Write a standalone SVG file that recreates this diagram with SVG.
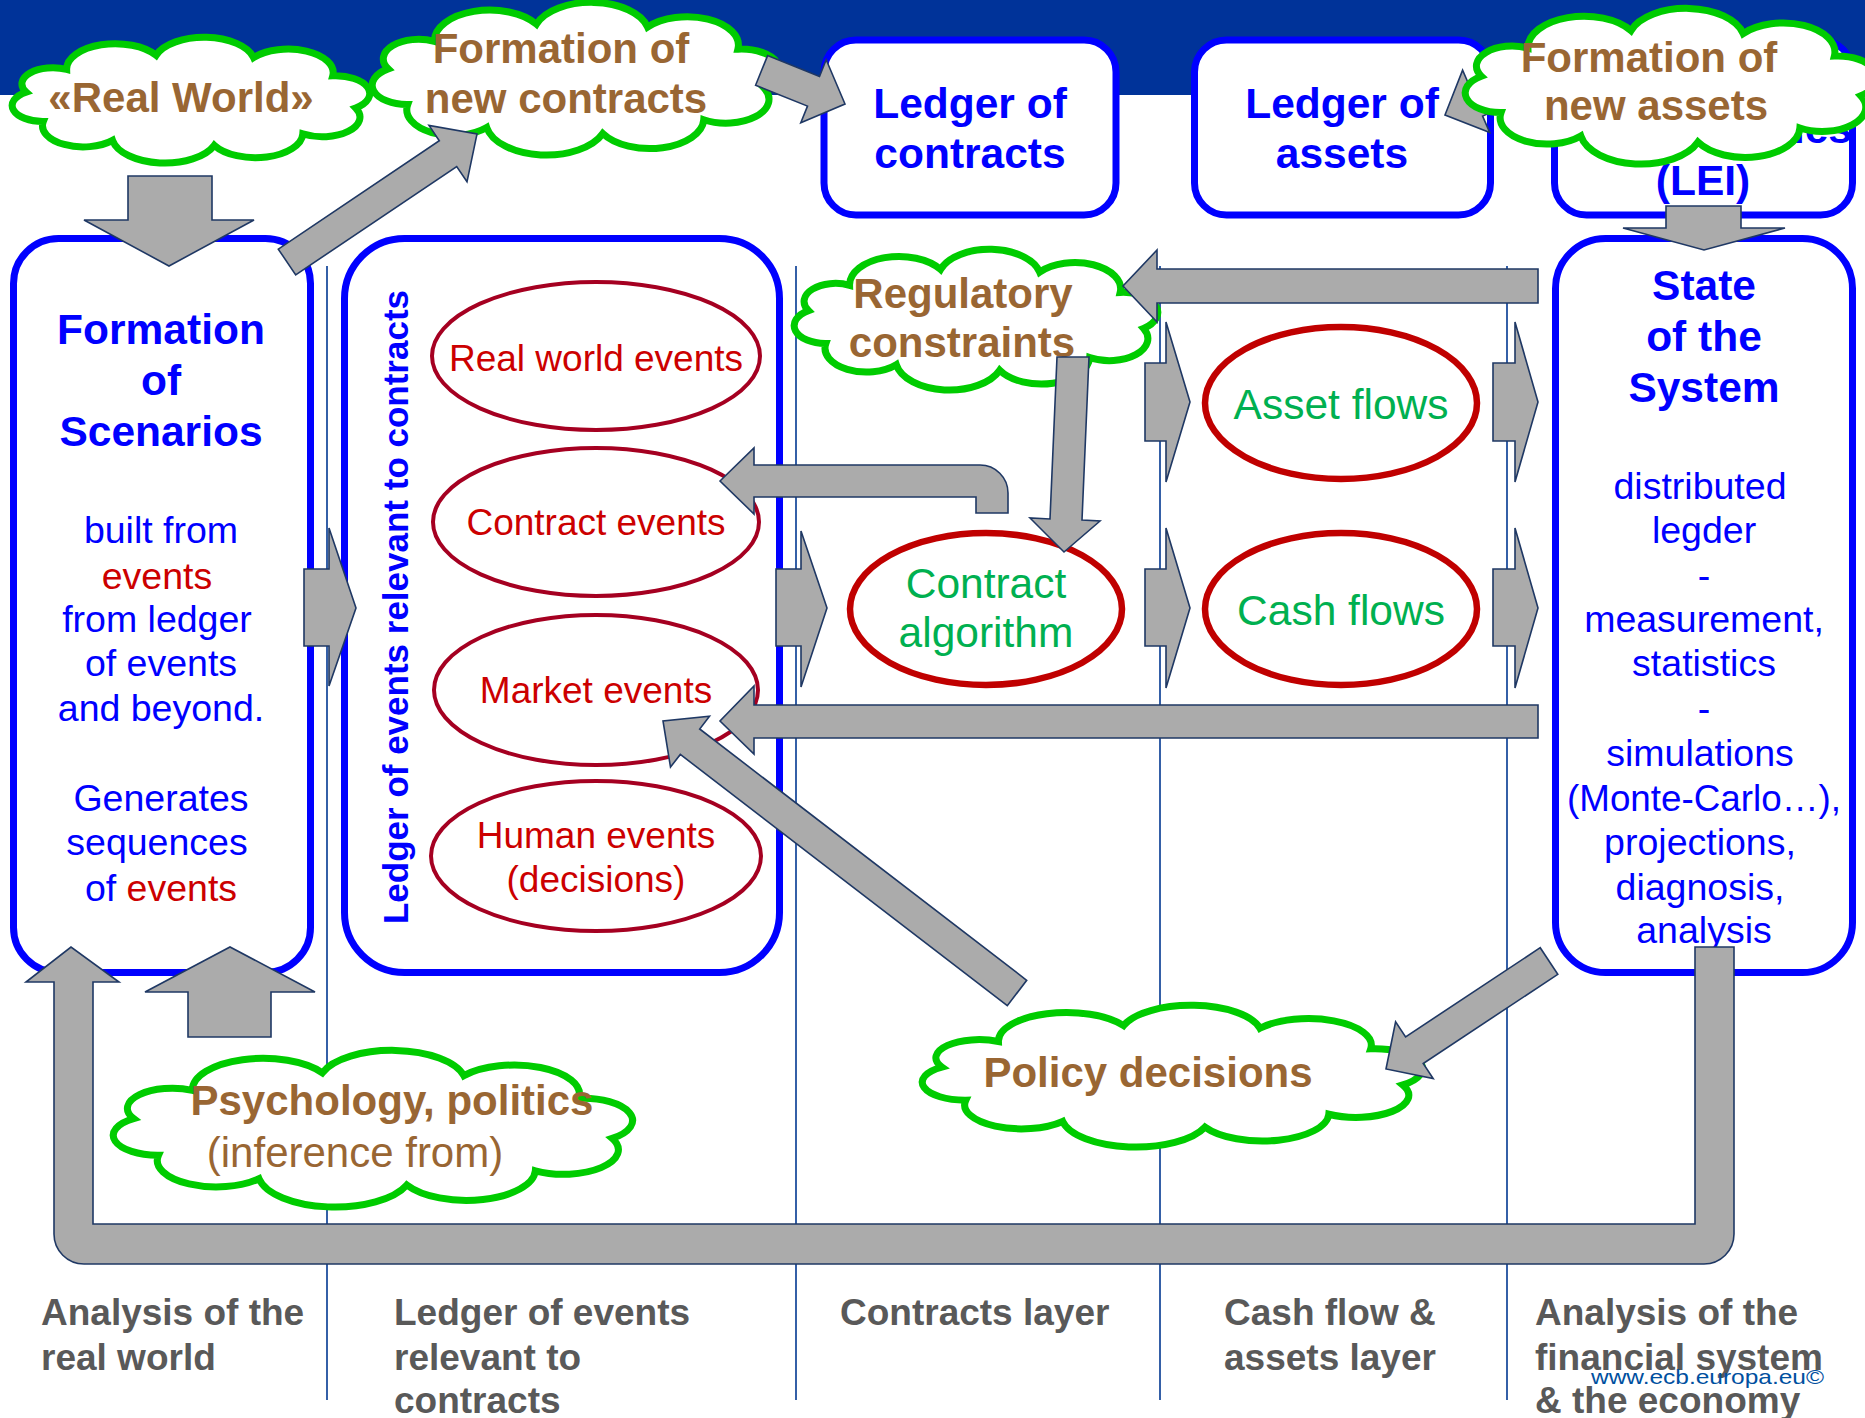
<svg xmlns="http://www.w3.org/2000/svg" xmlns:xlink="http://www.w3.org/1999/xlink" width="1865" height="1418" viewBox="0 0 1865 1418">
  <style>
    .box { fill: #ffffff; stroke: #0000ff; stroke-width: 7; }
    .ttl { font-family: "Liberation Sans", Arial, sans-serif; font-weight: bold; font-size: 42.5px; fill: #0000ff; text-anchor: middle; }
    .body { font-family: "Liberation Sans", Arial, sans-serif; font-size: 37.5px; fill: #0000ff; text-anchor: middle; }
    .red { fill: #cc0000; }
    .ev { fill: #ffffff; stroke: #a50021; stroke-width: 4; }
    .evt { font-family: "Liberation Sans", Arial, sans-serif; font-size: 37px; fill: #cc0000; text-anchor: middle; }
    .flow { fill: #ffffff; stroke: #c00000; stroke-width: 6.5; }
    .flowt { font-family: "Liberation Sans", Arial, sans-serif; font-size: 42.5px; fill: #00b050; text-anchor: middle; }
    .ct { font-family: "Liberation Sans", Arial, sans-serif; font-weight: bold; font-size: 42px; fill: #996633; text-anchor: middle; }
    .ctn { font-family: "Liberation Sans", Arial, sans-serif; font-size: 42px; fill: #996633; text-anchor: middle; }
    .arr { fill: #ababab; stroke: #1f3864; stroke-width: 1.6; stroke-linejoin: miter; }
    .lane { stroke: #1f4e9e; stroke-width: 1.8; }
    .lbl { font-family: "Liberation Sans", Arial, sans-serif; font-weight: bold; font-size: 37px; fill: #595959; }
  </style>
  <defs>
    <!-- scalloped cloud outline in a 183 x 124 unit box -->
    <path id="cloud" fill="#ffffff" stroke="#00cc00" stroke-width="7" vector-effect="non-scaling-stroke"
      d="M176.7,69.8 A19.4,19.4 0 0 1 149.5,95.4 A24.4,24.4 0 0 1 104.0,106.6 A27.3,27.3 0 0 1 51.7,101.7 A20.9,20.9 0 0 1 16.1,83.1 A15.7,15.7 0 0 1 7.3,54.2 A15.9,15.9 0 0 1 28.1,31.9 A25.0,25.0 0 0 1 74.1,18.0 A26.1,26.1 0 0 1 124.2,20.3 A23.1,23.1 0 0 1 164.9,38.2 A17.5,17.5 0 0 1 176.7,69.8 Z"/>
  </defs>

  <rect x="0" y="0" width="1865" height="1418" fill="#ffffff"/>
  <!-- title band -->
  <rect x="0" y="0" width="1865" height="95" fill="#003399"/>

  <!-- lane separators -->
  <g id="lanes">
    <line class="lane" x1="327" y1="266" x2="327" y2="1400"/>
    <line class="lane" x1="796" y1="266" x2="796" y2="1400"/>
    <line class="lane" x1="1160" y1="266" x2="1160" y2="1400"/>
    <line class="lane" x1="1507" y1="266" x2="1507" y2="1400"/>
  </g>

  <!-- ledgers in the top band -->
  <g id="ledger-contracts">
    <rect class="box" x="824" y="40" width="292" height="175" rx="32"/>
    <text class="ttl" x="970" y="118">Ledger of</text>
    <text class="ttl" x="970" y="168">contracts</text>
  </g>
  <g id="ledger-assets">
    <rect class="box" x="1194.5" y="40" width="296" height="175" rx="32"/>
    <text class="ttl" x="1342" y="118">Ledger of</text>
    <text class="ttl" x="1342" y="168">assets</text>
  </g>
  <g id="ledger-entities">
    <rect class="box" x="1554.5" y="40" width="298" height="175" rx="32"/>
    <text class="ttl" x="1852" y="143" style="text-anchor:end">entities</text>
    <text class="ttl" x="1703" y="195">(LEI)</text>
  </g>

  <!-- analysis of the real world -->
  <g id="scenarios">
    <rect class="box" x="13.5" y="238.5" width="297" height="734" rx="45"/>
    <text class="ttl" x="161" y="344">Formation</text>
    <text class="ttl" x="161" y="395">of</text>
    <text class="ttl" x="161" y="446">Scenarios</text>
    <text class="body" x="161" y="543">built from</text>
    <text class="body red" x="157" y="589">events</text>
    <text class="body" x="157" y="632">from ledger</text>
    <text class="body" x="161" y="676">of events</text>
    <text class="body" x="161" y="721">and beyond.</text>
    <text class="body" x="161" y="811">Generates</text>
    <text class="body" x="157" y="855">sequences</text>
    <text class="body" x="161" y="901">of <tspan class="red">events</tspan></text>
  </g>

  <!-- ledger of events -->
  <g id="ledger-events">
    <rect class="box" x="344.5" y="238.5" width="435" height="734" rx="60"/>
    <text class="ttl" style="font-size:35px" transform="translate(408,607) rotate(-90)" x="0" y="0">Ledger of events relevant to contracts</text>
  </g>
  <g id="real-world-events">
    <ellipse class="ev" cx="596" cy="356" rx="164" ry="74"/>
    <text class="evt" x="596" y="371">Real world events</text>
  </g>
  <g id="contract-events">
    <ellipse class="ev" cx="596" cy="522" rx="163" ry="74"/>
    <text class="evt" x="596" y="535">Contract events</text>
  </g>
  <g id="market-events">
    <ellipse class="ev" cx="596" cy="690" rx="162" ry="75"/>
    <text class="evt" x="596" y="703">Market events</text>
  </g>
  <g id="human-events">
    <ellipse class="ev" cx="596" cy="856" rx="165" ry="75"/>
    <text class="evt" x="596" y="848">Human events</text>
    <text class="evt" x="596" y="892">(decisions)</text>
  </g>

  <!-- contracts layer -->
  <g id="contract-algorithm">
    <ellipse class="flow" cx="986" cy="609" rx="136" ry="76"/>
    <text class="flowt" x="986" y="598">Contract</text>
    <text class="flowt" x="986" y="647">algorithm</text>
  </g>

  <!-- cash flow and assets layer -->
  <g id="asset-flows">
    <ellipse class="flow" cx="1341" cy="403" rx="136" ry="76"/>
    <text class="flowt" x="1341" y="419">Asset flows</text>
  </g>
  <g id="cash-flows">
    <ellipse class="flow" cx="1341" cy="609" rx="136" ry="76"/>
    <text class="flowt" x="1341" y="625">Cash flows</text>
  </g>

  <!-- analysis of the financial system -->
  <g id="state-of-system">
    <rect class="box" x="1555.5" y="238.5" width="297" height="734" rx="50"/>
    <text class="ttl" x="1704" y="300">State</text>
    <text class="ttl" x="1704" y="351">of the</text>
    <text class="ttl" x="1704" y="402">System</text>
    <text class="body" x="1700" y="499">distributed</text>
    <text class="body" x="1704" y="543">legder</text>
    <text class="body" x="1704" y="588">-</text>
    <text class="body" x="1704" y="632">measurement,</text>
    <text class="body" x="1704" y="676">statistics</text>
    <text class="body" x="1704" y="721">-</text>
    <text class="body" x="1700" y="766">simulations</text>
    <text class="body" x="1704" y="811" textLength="274" lengthAdjust="spacingAndGlyphs">(Monte-Carlo…),</text>
    <text class="body" x="1700" y="855">projections,</text>
    <text class="body" x="1700" y="900">diagnosis,</text>
    <text class="body" x="1704" y="943">analysis</text>
  </g>

  <!-- clouds -->
  <g id="real-world">
    <use xlink:href="#cloud" href="#cloud" transform="translate(12,37) scale(1.945,1.016)"/>
    <text class="ct" x="181" y="112">«Real World»</text>
  </g>
  <g id="new-contracts">
    <use xlink:href="#cloud" href="#cloud" transform="translate(372,2) scale(2.219,1.234)"/>
    <text class="ct" x="561" y="63">Formation of</text>
    <text class="ct" x="566" y="113">new contracts</text>
  </g>
  <g id="regulatory-constraints">
    <use xlink:href="#cloud" href="#cloud" transform="translate(794,249) scale(1.978,1.137)"/>
    <text class="ct" x="963" y="308">Regulatory</text>
    <text class="ct" x="962" y="357">constraints</text>
  </g>
  <g id="policy-decisions">
    <use xlink:href="#cloud" href="#cloud" transform="translate(922,1005) scale(2.721,1.145)"/>
    <text class="ct" x="1148" y="1087">Policy decisions</text>
  </g>
  <g id="psychology">
    <use xlink:href="#cloud" href="#cloud" transform="translate(113,1050) scale(2.825,1.266)"/>
    <text class="ct" x="392" y="1115">Psychology, politics</text>
    <text class="ctn" x="355" y="1167">(inference from)</text>
  </g>

  <!-- block arrows -->
  <g id="connectors">
    <!-- real world down into scenarios -->
    <polygon class="arr" points="128,176 212,176 212,220 254,220 169,266 84,220 128,220"/>
    <!-- scenarios up to new contracts -->
    <polygon class="arr" points="295.7,274.9 456.7,166.5 467,181.8 477,134 429,125.4 439.3,140.7 278.3,249.1"/>
    <!-- new contracts to ledger of contracts -->
    <polygon class="arr" points="755.6,85.2 807.5,106.1 800.8,122.8 845,104 826.2,59.8 819.5,76.5 767.6,55.6"/>
    <!-- new assets to ledger of assets -->
    <polygon class="arr" points="1524.8,62.8 1469.8,86.7 1462.6,70.2 1445,115 1489.8,132.6 1482.6,116.1 1537.6,92.2"/>
    <!-- entities down into state of the system -->
    <polygon class="arr" points="1666,206 1741,206 1741,228 1785,228 1704,250 1623,228 1666,228"/>
    <!-- scenarios to ledger of events -->
    <polygon class="arr" points="304,569 329,569 329,528 356,608 329,686 329,646 304,646"/>
    <!-- ledger of events to contract algorithm -->
    <polygon class="arr" points="776,569 801,569 801,531 827,608 801,687 801,646 776,646"/>
    <!-- into asset flows / cash flows -->
    <polygon class="arr" points="1145,363 1166,363 1166,322 1190,402 1166,482 1166,441 1145,441"/>
    <polygon class="arr" points="1145,569 1166,569 1166,528 1190,608 1166,688 1166,646 1145,646"/>
    <!-- flows into state of the system -->
    <polygon class="arr" points="1493,363 1515,363 1515,322 1538,402 1515,482 1515,441 1493,441"/>
    <polygon class="arr" points="1493,569 1515,569 1515,528 1538,608 1515,688 1515,646 1493,646"/>
    <!-- state back to regulatory constraints -->
    <polygon class="arr" points="1538,269 1157,269 1157,250 1123,286 1157,322 1157,303 1538,303"/>
    <!-- regulatory constraints down to contract algorithm -->
    <polygon class="arr" points="1057,357 1089,357 1082,520 1100,521 1064,552 1030,518 1050,519"/>
    <!-- contract algorithm back to contract events -->
    <path class="arr" d="M720,481 L754,448 L754,465 L980,465 A28,28 0 0 1 1008,493 L1008,513 L976,513 L976,497 L754,497 L754,514 Z"/>
    <!-- state back to market events -->
    <polygon class="arr" points="1538,705 754,705 754,686 720,721 754,754 754,738 1538,738"/>
    <!-- policy decisions to market events -->
    <polygon class="arr" points="1026.7,980.3 699.7,729 709.5,716.3 663,721 670.5,767.1 680.3,754.4 1007.3,1005.7"/>
    <!-- state to policy decisions -->
    <polygon class="arr" points="1540.2,947.7 1405.6,1036.9 1395.6,1021.8 1386,1069 1433.2,1078.6 1423.2,1063.5 1557.8,974.3"/>
    <!-- psychology up into scenarios -->
    <polygon class="arr" points="188,1037 271,1037 271,992 315,992 230,947 145,992 188,992"/>
    <!-- feedback loop from state of the system back to scenarios -->
    <path class="arr" d="M1695,947 L1734,947 L1734,1234 A30,30 0 0 1 1704,1264 L84,1264 A30,30 0 0 1 54,1234 L54,982 L26,982 L71,947 L119,982 L93,982 L93,1224 L1695,1224 Z"/>
  </g>

  <g id="new-assets">
    <use xlink:href="#cloud" href="#cloud" transform="translate(1465,8) scale(2.240,1.258)"/>
    <text class="ct" x="1649" y="72">Formation of</text>
    <text class="ct" x="1656" y="120">new assets</text>
  </g>

  <!-- lane captions -->
  <g id="captions">
    <text class="lbl" x="41" y="1325">Analysis of the</text>
    <text class="lbl" x="41" y="1370">real world</text>
    <text class="lbl" x="394" y="1325">Ledger of events</text>
    <text class="lbl" x="394" y="1370">relevant to</text>
    <text class="lbl" x="394" y="1413">contracts</text>
    <text class="lbl" x="840" y="1325">Contracts layer</text>
    <text class="lbl" x="1224" y="1325">Cash flow &amp;</text>
    <text class="lbl" x="1224" y="1370">assets layer</text>
    <text class="lbl" x="1535" y="1325">Analysis of the</text>
    <text class="lbl" x="1535" y="1370">financial system</text>
    <text class="lbl" x="1535" y="1413">&amp; the economy</text>
    <text x="1591" y="1384" font-family="Liberation Sans, Arial, sans-serif" font-size="21" fill="#0050a0" textLength="233" lengthAdjust="spacingAndGlyphs">www.ecb.europa.eu©</text>
  </g>
</svg>
